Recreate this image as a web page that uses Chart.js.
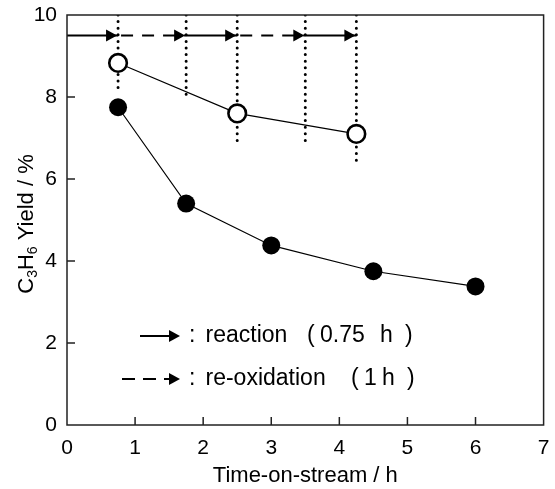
<!DOCTYPE html>
<html>
<head>
<meta charset="utf-8">
<script src="https://cdn.jsdelivr.net/npm/chart.js@4.4.0/dist/chart.umd.min.js"></script>
<style>
  html, body { margin: 0; padding: 0; background: #fff; }
  #wrap { width: 555px; height: 489px; }
</style>
</head>
<body>
<div id="wrap"><canvas id="yieldChart"></canvas></div>
<script>
// data
const timeFilled = [0.75, 1.75, 3, 4.5, 6];
const yieldFilled = [7.75, 5.4, 4.38, 3.75, 3.38];
const timeOpen = [0.75, 2.5, 4.25];
const yieldOpen = [8.83, 7.6, 7.1];
const switchTimes = [0.75, 1.75, 2.5, 3.5, 4.25];
const switchLineEnds = [8.1, 7.95, 6.8, 6.8, 6.4];
const arrowStops = [0, 0.75, 1.75, 2.5, 3.5, 4.25];
const arrowLevel = 9.5;
const xTicks = [0, 1, 2, 3, 4, 5, 6, 7];
const yTicks = [0, 2, 4, 6, 8, 10];

const FONT = "'Liberation Sans', Arial, sans-serif";
const DASH = [12, 9];

function toPoints(xs, ys) {
  return xs.map((x, i) => ({ x: x, y: ys[i] }));
}

// arrow segments: solid = reaction, dashed = re-oxidation
const arrowSets = arrowStops.slice(0, -1).map((x0, i) => ({
  data: [{ x: x0, y: arrowLevel }, { x: arrowStops[i + 1], y: arrowLevel }],
  showLine: true,
  borderColor: "#000",
  borderWidth: 2.2,
  borderDash: i % 2 === 0 ? [] : DASH,
  borderDashOffset: -3,
  pointRadius: 0,
  arrow: true,
}));

const switchSets = switchTimes.map((x, i) => ({
  data: [{ x: x, y: 10 }, { x: x, y: switchLineEnds[i] }],
  showLine: true,
  borderColor: "#000",
  borderWidth: 3,
  borderDash: [0, 6.6],
  borderCapStyle: "round",
  pointRadius: 0,
}));

function drawHead(ctx, x, y, len, half) {
  ctx.beginPath();
  ctx.moveTo(x, y);
  ctx.lineTo(x - len, y - half);
  ctx.lineTo(x - len, y + half);
  ctx.closePath();
  ctx.fill();
}

const framePlugin = {
  id: "frame",
  afterDraw(chart) {
    const { ctx, chartArea: a, scales } = chart;
    ctx.save();
    ctx.fillStyle = "#000";
    ctx.strokeStyle = "#000";

    // arrowheads on the top row
    chart.data.datasets.forEach((ds, i) => {
      if (!ds.arrow) return;
      const p = chart.getDatasetMeta(i).data[1];
      drawHead(ctx, p.x - 1, p.y, 11, 6);
    });

    // box
    ctx.strokeStyle = "#222";
    ctx.lineWidth = 1.5;
    ctx.strokeRect(a.left, a.top, a.right - a.left, a.bottom - a.top);

    // inward ticks
    ctx.beginPath();
    xTicks.slice(1, -1).forEach((v) => {
      const px = scales.x.getPixelForValue(v);
      ctx.moveTo(px, a.bottom);
      ctx.lineTo(px, a.bottom - 8);
    });
    yTicks.slice(1, -1).forEach((v) => {
      const py = scales.y.getPixelForValue(v);
      ctx.moveTo(a.left, py);
      ctx.lineTo(a.left + 8, py);
    });
    ctx.stroke();

    // y title with subscripts
    ctx.fillStyle = "#000";
    ctx.translate(33, (a.top + a.bottom) / 2 + 4);
    ctx.rotate(-Math.PI / 2);
    const parts = [["C", 0], ["3", 1], ["H", 0], ["6", 1], [" Yield / %", 0]];
    const big = "22px " + FONT, small = "14px " + FONT;
    let w = 0;
    parts.forEach(([t, s]) => { ctx.font = s ? small : big; w += ctx.measureText(t).width; });
    let cx = -w / 2;
    ctx.textBaseline = "alphabetic";
    ctx.textAlign = "left";
    parts.forEach(([t, s]) => {
      ctx.font = s ? small : big;
      ctx.fillText(t, cx, s ? 4 : 0);
      cx += ctx.measureText(t).width;
    });
    ctx.restore();

    // legend
    ctx.save();
    ctx.fillStyle = "#000";
    ctx.strokeStyle = "#000";
    ctx.lineWidth = 2.2;
    const rows = [
      { y: 336, x0: 140, dash: [], words: [[":", 189], ["reaction", 205.5], ["(", 307], ["0.75", 320], ["h", 380], [")", 405]] },
      { y: 379, x0: 122, dash: [13, 8], words: [[":", 189], ["re-oxidation", 205.5], ["(", 351], ["1", 364], ["h", 382], [")", 407]] },
    ];
    const tip = 180;
    rows.forEach((r) => {
      ctx.setLineDash(r.dash);
      ctx.beginPath();
      ctx.moveTo(r.x0, r.y);
      ctx.lineTo(tip - 6, r.y);
      ctx.stroke();
      ctx.setLineDash([]);
      drawHead(ctx, tip, r.y, 11, 6);
      ctx.font = "23px " + FONT;
      ctx.textBaseline = "middle";
      ctx.textAlign = "left";
      r.words.forEach(([t, x]) => ctx.fillText(t, x, r.y));
    });
    ctx.restore();
  },
};

new Chart(document.getElementById("yieldChart"), {
  type: "scatter",
  data: {
    datasets: [
      {
        data: toPoints(timeFilled, yieldFilled),
        showLine: true,
        borderColor: "#000",
        borderWidth: 1.2,
        pointRadius: 9,
        pointBackgroundColor: "#000",
        pointBorderColor: "#000",
        pointBorderWidth: 0,
      },
      {
        data: toPoints(timeOpen, yieldOpen),
        showLine: true,
        borderColor: "#000",
        borderWidth: 1.2,
        pointRadius: 8.8,
        pointBackgroundColor: "#fff",
        pointBorderColor: "#000",
        pointBorderWidth: 2.6,
      },
      ...arrowSets,
      ...switchSets,
    ],
  },
  options: {
    responsive: true,
    maintainAspectRatio: false,
    animation: false,
    layout: { padding: { top: 15, right: 8, left: 0, bottom: 0 } },
    plugins: { legend: { display: false }, tooltip: { enabled: false } },
    scales: {
      x: {
        type: "linear",
        min: 0,
        max: 7,
        afterBuildTicks: (s) => { s.ticks = xTicks.map((v) => ({ value: v })); },
        afterFit: (s) => { s.height = 64; s.paddingLeft = 0; s.paddingRight = 0; },
        grid: { display: false },
        border: { display: false },
        ticks: { color: "#000", font: { family: FONT, size: 21 }, padding: 3 },
        title: { display: true, text: "Time-on-stream / h", color: "#000", font: { family: FONT, size: 22 }, padding: { top: 0, bottom: 0 } },
      },
      y: {
        min: 0,
        max: 10,
        afterBuildTicks: (s) => { s.ticks = yTicks.map((v) => ({ value: v })); },
        afterFit: (s) => { s.width = 67; s.paddingTop = 0; s.paddingBottom = 0; },
        grid: { display: false },
        border: { display: false },
        ticks: { color: "#000", font: { family: FONT, size: 21 }, padding: 2 },
      },
    },
  },
  plugins: [framePlugin],
});
</script>
</body>
</html>
